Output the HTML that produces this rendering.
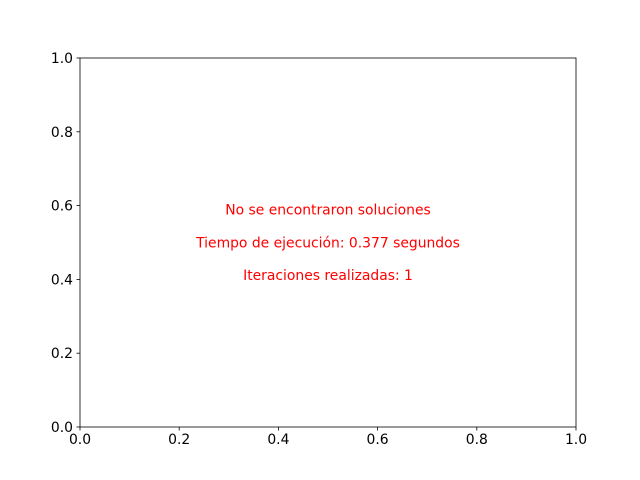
<!DOCTYPE html>
<html><head><meta charset="utf-8"><style>
body{margin:0;background:#fff}
svg{display:block;font-family:"DejaVu Sans","Liberation Sans",sans-serif}
</style></head><body>
<svg width="640" height="480" xmlns="http://www.w3.org/2000/svg">
<rect width="640" height="480" fill="#fff"/>
<g id="axes"></g>
</svg>
<script>
const xTicks=[0,0.2,0.4,0.6,0.8,1.0];
const yTicks=[0,0.2,0.4,0.6,0.8,1.0];
const tickLabels=["0.0","0.2","0.4","0.6","0.8","1.0"];
const messages=["No se encontraron soluciones","Tiempo de ejecución: 0.377 segundos","Iteraciones realizadas: 1"];
const messageY=[0.59,0.5,0.412];
const L=80,R=576,T=58,B=427;
const sx=v=>L+v*(R-L), sy=v=>B-v*(B-T);
const g=document.getElementById('axes');
const NS='http://www.w3.org/2000/svg';
function mk(t,a){const e=document.createElementNS(NS,t);for(const k in a)e.setAttribute(k,a[k]);g.appendChild(e);return e;}
const frame=mk('rect',{x:L,y:T,width:R-L,height:B-T,fill:'none',stroke:'#000','stroke-width':0.8});


xTicks.forEach((v,i)=>{
  const l=mk('line',{x1:sx(v),x2:sx(v),y1:B,y2:B+3.5,stroke:'#000','stroke-width':0.8});
  
  
  const t=mk('text',{x:sx(v),y:B+17,'text-anchor':'middle','font-size':13.9});
  t.textContent=tickLabels[i];
  
  
});
yTicks.forEach((v,i)=>{
  const l=mk('line',{x1:L-3.5,x2:L,y1:sy(v),y2:sy(v),stroke:'#000','stroke-width':0.8});
  
  
  const t=mk('text',{x:L-7,y:sy(v)+5,'text-anchor':'end','font-size':13.9});
  t.textContent=tickLabels[i];
  
  
});
messages.forEach((m,i)=>{
  const t=mk('text',{x:sx(0.5),y:sy(messageY[i])+5,'text-anchor':'middle','font-size':13.9,fill:'#ff0000'});
  t.textContent=m;
  
  
});
</script>
</body></html>
